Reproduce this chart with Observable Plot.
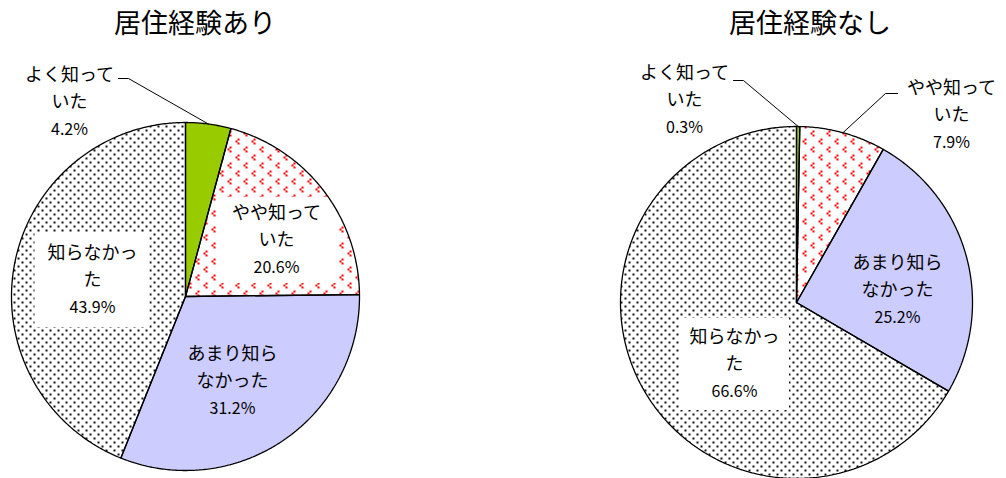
<!DOCTYPE html>
<html><head><meta charset="utf-8">
<script src="https://cdn.jsdelivr.net/npm/d3@7"></script>
<script src="https://cdn.jsdelivr.net/npm/@observablehq/plot@0.6"></script>
<style>
body{margin:0;background:#fff;}
#wrap{position:relative;width:1006px;height:478px;overflow:hidden;font-family:"Noto Sans CJK JP",sans-serif;}
.title{position:absolute;top:3px;font-size:27px;transform:translateX(-50%);white-space:nowrap;color:#000;line-height:38px;}
.pie{position:absolute;top:0;}
</style></head><body>
<div id="wrap"></div>
<script>
// ---- data ----
const categories = ["よく知っていた", "やや知っていた", "あまり知らなかった", "知らなかった"];
const labelLines = [["よく知って", "いた"], ["やや知って", "いた"], ["あまり知ら", "なかった"], ["知らなかっ", "た"]];
const titles = ["居住経験あり", "居住経験なし"];
const valuesWith = [4.2, 20.6, 31.2, 43.9];
const valuesWithout = [0.3, 7.9, 25.2, 66.6];

// ---- styles / layout ----
const fillIds = ["solidGreen", "redPat", "lavender", "dotPat"];
const FONT = "Noto Sans CJK JP";
const layouts = [
  {left: 0, cx: 185, cy: 296, R: 174, titleX: 195,
   labels: [
     {dx: -116, dy: -194, leader: [[-67, -218], [-57, -218]]},
     {dx: 91, dy: -56, box: [120, 86]},
     {dx: 47, dy: 85},
     {dx: -93, dy: -16, box: [115, 94]}
   ]},
  {left: 503, cx: 293, cy: 302, R: 176, titleX: 307,
   labels: [
     {dx: -112, dy: -202, leader: [[-63, -222], [-53, -222]]},
     {dx: 155, dy: -187, leader: [[101, -209], [89, -209]]},
     {dx: 101, dy: -12},
     {dx: -62, dy: 62, box: [110, 92]}
   ]}
];

function addDefs(svg, p) {
  const defs = d3.select(svg).insert("defs", ":first-child");
  const g = defs.append("pattern").attr("id", p + "solidGreen").attr("patternUnits", "userSpaceOnUse").attr("width", 4).attr("height", 4);
  g.append("rect").attr("width", 4).attr("height", 4).attr("fill", "#99cc00");
  const l = defs.append("pattern").attr("id", p + "lavender").attr("patternUnits", "userSpaceOnUse").attr("width", 4).attr("height", 4);
  l.append("rect").attr("width", 4).attr("height", 4).attr("fill", "#ccccff");
  const d = defs.append("pattern").attr("id", p + "dotPat").attr("patternUnits", "userSpaceOnUse").attr("width", 8).attr("height", 8);
  d.append("rect").attr("width", 8).attr("height", 8).attr("fill", "#fff");
  d.append("rect").attr("x", 1).attr("y", 1).attr("width", 2).attr("height", 2).attr("fill", "#111");
  d.append("rect").attr("x", 5).attr("y", 5).attr("width", 2).attr("height", 2).attr("fill", "#111");
  const r = defs.append("pattern").attr("id", p + "redPat").attr("patternUnits", "userSpaceOnUse").attr("width", 16).attr("height", 16);
  r.append("rect").attr("width", 16).attr("height", 16).attr("fill", "#fff");
  for (const [ox, oy] of [[3, 2], [11, 10]]) {
    for (const [a, b] of [[2, 0], [0, 2], [2, 4]]) {
      r.append("rect").attr("x", ox + a).attr("y", oy + b).attr("width", 2).attr("height", 2).attr("fill", "#ff0000");
    }
  }
}

function makePie(values, L, prefix) {
  const rows = categories.map((c, i) => ({cat: c, value: values[i], i}));
  const arcs = d3.pie().sort(null).value(d => d.value)(rows);
  const poly = [];
  arcs.forEach((a, i) => {
    const fill = `url(#${prefix}${fillIds[i]})`;
    const n = Math.max(2, Math.ceil((a.endAngle - a.startAngle) / 0.01));
    poly.push({k: i, x: 0, y: 0, fill});
    for (let j = 0; j <= n; j++) {
      const t = a.startAngle + (a.endAngle - a.startAngle) * j / n;
      poly.push({k: i, x: Math.sin(t), y: Math.cos(t), fill});
    }
    poly.push({k: i, x: 0, y: 0, fill});
  });
  const R = L.R;
  const lab = arcs.map((a, i) => {
    const o = L.labels[i];
    const mid = (a.startAngle + a.endAngle) / 2;
    return {
      i, x: o.dx / R, y: -o.dy / R,
      l0: labelLines[i][0], l1: labelLines[i][1], l2: a.data.value.toFixed(1) + "%",
      box: o.box, leader: o.leader, mx: Math.sin(mid), my: Math.cos(mid)
    };
  });
  const boxes = lab.filter(d => d.box).map(d => ({
    x1: d.x - d.box[0] / 2 / R, x2: d.x + d.box[0] / 2 / R,
    y1: d.y - d.box[1] / 2 / R, y2: d.y + d.box[1] / 2 / R
  }));
  const leaders = [];
  lab.filter(d => d.leader).forEach(d => {
    leaders.push({k: d.i, x: d.leader[0][0] / R, y: -d.leader[0][1] / R});
    leaders.push({k: d.i, x: d.leader[1][0] / R, y: -d.leader[1][1] / R});
    leaders.push({k: d.i, x: d.mx, y: d.my});
  });
  const svg = Plot.plot({
    width: 503, height: 478,
    margin: 0,
    style: {background: "transparent", overflow: "visible"},
    x: {domain: [-1, 1], range: [L.cx - R, L.cx + R], axis: null},
    y: {domain: [-1, 1], range: [L.cy + R, L.cy - R], axis: null},
    color: {type: "identity"},
    marks: [
      Plot.line(poly, {x: "x", y: "y", z: "k", fill: "fill", stroke: "none", curve: "linear"}),
      Plot.rect(boxes, {x1: "x1", x2: "x2", y1: "y1", y2: "y2", fill: "#fff", inset: 0}),
      Plot.line(poly, {x: "x", y: "y", z: "k", fill: "none", stroke: "#000", strokeWidth: 1.3, strokeLinejoin: "miter", curve: "linear"}),
      Plot.line(leaders, {x: "x", y: "y", z: "k", stroke: "#000", strokeWidth: 1, curve: "linear"}),
      Plot.text(lab, {x: "x", y: "y", text: "l0", dy: -27, fontSize: 18, fontFamily: FONT, fill: "#000"}),
      Plot.text(lab, {x: "x", y: "y", text: "l1", dy: 0, fontSize: 18, fontFamily: FONT, fill: "#000"}),
      Plot.text(lab, {x: "x", y: "y", text: "l2", dy: 27, fontSize: 16, fontFamily: FONT, fill: "#000"})
    ]
  });
  addDefs(svg, prefix);
  return svg;
}

const wrap = document.getElementById("wrap");
[valuesWith, valuesWithout].forEach((vals, k) => {
  const L = layouts[k];
  const svg = makePie(vals, L, "p" + k);
  svg.classList.add("pie");
  svg.style.left = L.left + "px";
  wrap.appendChild(svg);
  const t = document.createElement("div");
  t.className = "title";
  t.style.left = (L.left + L.titleX) + "px";
  t.textContent = titles[k];
  wrap.appendChild(t);
});
</script>
</body></html>
